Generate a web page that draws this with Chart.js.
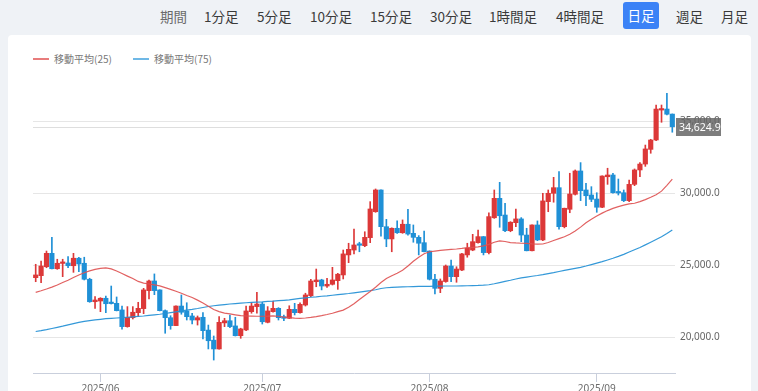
<!DOCTYPE html>
<html><head><meta charset="utf-8">
<script src="https://cdn.jsdelivr.net/npm/chart.js@4/dist/chart.umd.min.js"></script>
<style>
html,body{margin:0;padding:0;width:758px;height:391px;overflow:hidden;background:#eff2f6;font-family:"Noto Sans CJK JP","Noto Sans",sans-serif;}
.btn{position:absolute;top:6px;font-size:13.5px;line-height:20px;color:#3a3a3a;white-space:nowrap;}
.act{position:absolute;left:623px;top:2px;width:36px;height:27px;line-height:27px;text-align:center;background:#3b82f6;color:#fff;border-radius:3px;font-size:13.5px;}
#card{position:absolute;left:8px;top:35px;width:743px;height:370px;background:#fff;border-radius:4px;}
.lg{position:absolute;top:52px;font-size:10px;line-height:14px;color:#777;white-space:nowrap;}
.sw{position:absolute;top:58px;width:16px;height:2px;}
#c{position:absolute;left:8px;top:35px;}
</style></head><body>
<div class="btn" style="left:160px;color:#6b6b6b">期間</div>
<div class="btn" style="left:204px">1分足</div>
<div class="btn" style="left:257px">5分足</div>
<div class="btn" style="left:310px">10分足</div>
<div class="btn" style="left:370px">15分足</div>
<div class="btn" style="left:430px">30分足</div>
<div class="btn" style="left:489px">1時間足</div>
<div class="btn" style="left:556px">4時間足</div>
<div class="act">日足</div>
<div class="btn" style="left:676px">週足</div>
<div class="btn" style="left:721px">月足</div>
<div id="card"></div>
<div class="sw" style="left:33px;background:#e87c7c"></div>
<div class="lg" style="left:54px">移動平均(25)</div>
<div class="sw" style="left:133px;background:#6fb8e6"></div>
<div class="lg" style="left:154px">移動平均(75)</div>
<canvas id="c" width="743" height="370"></canvas>
<script>
const dates = [
'2025-05-20','2025-05-21','2025-05-22','2025-05-23','2025-05-24','2025-05-25','2025-05-26','2025-05-27','2025-05-28','2025-05-29','2025-05-30','2025-05-31',
'2025-06-01','2025-06-02','2025-06-03','2025-06-04','2025-06-05','2025-06-06','2025-06-07','2025-06-08','2025-06-09','2025-06-10',
'2025-06-11','2025-06-12','2025-06-13','2025-06-14','2025-06-15','2025-06-16','2025-06-17','2025-06-18','2025-06-19','2025-06-20',
'2025-06-21','2025-06-22','2025-06-23','2025-06-24','2025-06-25','2025-06-26','2025-06-27','2025-06-28','2025-06-29','2025-06-30',
'2025-07-01','2025-07-02','2025-07-03','2025-07-04','2025-07-05','2025-07-06','2025-07-07','2025-07-08','2025-07-09','2025-07-10',
'2025-07-11','2025-07-12','2025-07-13','2025-07-14','2025-07-15','2025-07-16','2025-07-17','2025-07-18','2025-07-19','2025-07-20',
'2025-07-21','2025-07-22','2025-07-23','2025-07-24','2025-07-25','2025-07-26','2025-07-27','2025-07-28','2025-07-29','2025-07-30','2025-07-31',
'2025-08-01','2025-08-02','2025-08-03','2025-08-04','2025-08-05','2025-08-06','2025-08-07','2025-08-08','2025-08-09','2025-08-10',
'2025-08-11','2025-08-12','2025-08-13','2025-08-14','2025-08-15','2025-08-16','2025-08-17','2025-08-18','2025-08-19','2025-08-20',
'2025-08-21','2025-08-22','2025-08-23','2025-08-24','2025-08-25','2025-08-26','2025-08-27','2025-08-28','2025-08-29','2025-08-30','2025-08-31',
'2025-09-01','2025-09-02','2025-09-03','2025-09-04','2025-09-05','2025-09-06','2025-09-07','2025-09-08','2025-09-09','2025-09-10',
'2025-09-11','2025-09-12','2025-09-13','2025-09-14','2025-09-15'];

const opens = [24140,24280,24900,25830,24760,25130,25160,24970,25490,25140,24030,22470,22520,22710,22380,22360,21900,20740,21360,21710,
21990,23240,23910,23290,21850,21360,20810,22170,21830,21480,21200,21390,20500,19800,19190,21000,21150,20790,20110,20510,
21780,22130,22310,21040,21780,22010,21430,21320,21940,21710,22240,22890,23860,23980,23560,23680,23930,24330,25720,26060,
26420,26360,26920,28720,30230,27680,26830,27570,27260,27850,27220,26940,26570,25990,24030,23400,23870,24950,24210,24670,
25720,26060,26570,26990,25880,28300,29650,28490,27400,27960,28220,27100,26010,27800,26760,29420,30000,30390,27680,28890,
29930,31550,30230,29880,29600,29030,31150,31270,30060,30040,29490,30620,31620,32030,33050,33700,35780,35850,35500];
const highs = [25070,25300,25990,26940,25420,25420,25600,25830,25560,25560,24100,22820,22750,22870,23560,22800,22170,22130,22130,22430,
23400,23980,24400,23300,21900,21500,22180,22940,22400,21670,21480,21710,20850,20090,21430,21320,21550,21390,20630,22170,
22400,23130,22430,22130,22520,22060,21550,22190,22360,22400,23060,24030,24740,24030,24100,24860,24440,26060,26530,27520,
26600,27330,29420,30300,30240,28190,27600,28080,28150,28890,27800,27060,27380,26000,24380,24050,25020,25370,24900,25830,
26530,27150,27450,27000,28650,30230,30760,29310,28030,28910,28310,27570,27810,28080,30000,30230,31110,31500,28970,31390,
31620,32130,30690,30460,30040,31220,31740,31390,30990,30230,30920,31690,32130,33350,33750,36130,36130,36940,35510];
const lows = [23860,23790,24830,24740,24720,24210,24830,24510,24560,23980,22430,22010,21780,21710,22310,21830,20560,20700,21270,21430,
21640,22660,22960,21830,20280,20560,20800,21600,21200,20920,20850,19880,19190,18420,19170,20740,20670,20090,19930,20460,
21670,21670,20920,21000,21740,21200,21150,21300,21550,21670,22170,22820,23510,23290,23470,23630,23330,24050,25180,25790,
25940,26290,26570,28680,27030,26290,25940,27220,27220,27100,26600,25720,25930,23980,23010,23100,23820,23860,23820,24630,
25560,26010,26530,25720,25790,28260,27640,27330,27330,27680,26640,26000,26000,26710,26710,28720,29380,27500,27600,28650,
29880,29490,29140,29420,28680,29000,30620,30000,29880,29420,29420,30530,31150,31870,32780,33650,34930,35440,34240];
const closes = [24330,24950,25830,24760,25140,25150,24970,25490,25090,24030,22470,22590,22710,22330,22340,21850,20740,21390,21740,22010,
23290,23910,23240,21850,21360,20810,22170,21740,21430,21200,21360,20460,19760,19190,21040,21150,20740,20110,20580,21830,
22170,22310,21080,21830,22010,21360,21320,21940,21710,22290,22940,23910,23980,23560,23680,23980,24380,25790,26110,26410,
26390,26940,28910,30230,27680,26830,27570,27260,27850,27170,26940,26530,25945,24030,23400,23910,24950,24210,24740,25790,
26180,26640,26990,25880,28380,29650,28440,27400,27990,28220,27100,26010,27800,26760,29470,30000,30390,27680,28960,29950,
31550,30180,29830,29580,29030,31200,31270,30040,30020,29490,30620,31620,32030,33080,33700,35850,35830,35490,34624.9];

const ma25 = [23120,23230,23350,23480,23630,23800,23960,24150,24330,24480,24610,24720,24790,24820,24750,24600,24430,24250,24080,23880,
23760,23700,23640,23570,23450,23330,23200,23060,22900,22760,22580,22380,22150,21930,21780,21680,21620,21560,21500,21480,
21470,21460,21460,21470,21490,21460,21400,21360,21330,21320,21340,21380,21430,21500,21580,21670,21780,21890,22080,22330,
22620,22900,23180,23480,23800,24080,24270,24450,24650,24950,25280,25560,25800,25940,25990,26040,26070,26100,26130,26170,
26220,26250,26280,26350,26450,26600,26690,26650,26580,26550,26530,26520,26490,26470,26480,26580,26720,26850,26980,27150,
27380,27650,27950,28200,28420,28620,28800,28950,29070,29180,29260,29310,29420,29560,29720,29900,30150,30550,30980];
const ma75 = [20400,20460,20530,20610,20690,20770,20860,20950,21030,21100,21160,21210,21250,21290,21320,21340,21360,21390,21420,21450,
21480,21520,21560,21600,21650,21710,21770,21830,21890,21940,22000,22070,22140,22190,22230,22270,22310,22340,22370,22400,
22420,22440,22460,22490,22510,22540,22570,22600,22650,22700,22740,22780,22810,22850,22880,22920,22960,23000,23040,23090,
23140,23190,23240,23300,23390,23440,23470,23490,23500,23510,23520,23530,23540,23540,23550,23550,23560,23560,23560,23570,
23580,23590,23600,23620,23650,23720,23800,23880,23960,24050,24120,24180,24240,24290,24350,24420,24490,24570,24650,24720,
24790,24860,24950,25050,25150,25250,25370,25490,25620,25760,25920,26080,26240,26420,26600,26790,26980,27200,27450];

const yTicks = [20000,25000,30000,35000];
const lastPrice = closes[closes.length-1];

const UP = '#dc3838', DOWN = '#1f90d6';
const candleColors = closes.map((c,i) => c >= opens[i] ? UP : DOWN);
const fmt = v => v.toLocaleString('en-US',{minimumFractionDigits:1,maximumFractionDigits:1});

const pricePlugin = {
  id:'price',
  beforeDraw(chart){
    const {ctx, chartArea:a, scales:{y}} = chart;
    const py = y.getPixelForValue(lastPrice);
    ctx.save();
    ctx.fillStyle = '#7d7d7d';
    ctx.fillRect(a.right+1, Math.round(py)-9, 45, 18);
    ctx.restore();
  },
  beforeDatasetsDraw(chart){
    const {ctx, chartArea:a, scales:{y}} = chart;
    const py = Math.round(y.getPixelForValue(lastPrice))+0.5;
    ctx.save();
    ctx.strokeStyle = '#dedede'; ctx.lineWidth = 1;
    ctx.beginPath(); ctx.moveTo(a.left, py); ctx.lineTo(a.right, py); ctx.stroke();
    ctx.restore();
  },
  afterDraw(chart){
    const {ctx, chartArea:a, scales:{y}} = chart;
    const py = y.getPixelForValue(lastPrice);
    ctx.save();
    ctx.fillStyle = '#ffffff';
    ctx.font = '10.5px "Noto Sans", sans-serif';
    ctx.textBaseline = 'middle';
    ctx.textAlign = 'left';
    ctx.fillText(fmt(lastPrice), a.right+4, Math.round(py)+1);
    ctx.restore();
  }
};

new Chart(document.getElementById('c'), {
  type:'bar',
  data:{
    labels: dates,
    datasets:[
      {type:'line', data: ma25, borderColor:'rgba(222,80,80,0.9)', borderWidth:1.2, pointRadius:0, tension:0, order:0},
      {type:'line', data: ma75, borderColor:'rgba(40,146,214,0.95)', borderWidth:1.2, pointRadius:0, tension:0, order:0},
      {type:'bar', data: opens.map((o,i)=>[o, closes[i]]), backgroundColor: candleColors, barThickness:4.5, grouped:false, minBarLength:1.5, order:1},
      {type:'bar', data: lows.map((l,i)=>[l, highs[i]]), backgroundColor: candleColors, barThickness:1, grouped:false, order:2}
    ]
  },
  plugins:[pricePlugin],
  options:{
    responsive:false, animation:false, devicePixelRatio:1,
    layout:{padding:{left:25, top:50, right:0, bottom:0}},
    plugins:{legend:{display:false}, tooltip:{enabled:false}},
    scales:{
      x:{
        type:'category', offset:true,
        grid:{display:true, drawOnChartArea:false, drawTicks:true, tickLength:9, offset:false, color:'#c9cfdc'},
        border:{display:true, color:'#c9cfdc'},
        afterBuildTicks(axis){ axis.ticks = axis.ticks.filter(t => dates[t.value].endsWith('-01')); },
        afterFit(axis){ axis.height = 32; },
        ticks:{autoSkip:false, maxRotation:0, padding:1, color:'#6b6b6b', font:{size:10, family:'"Noto Sans", sans-serif'},
          callback(v){ return dates[v].slice(0,7).replace('-','/'); }}
      },
      y:{
        position:'right', min:17520, max:37520,
        grid:{color:'#e6e6e6', drawTicks:false},
        border:{display:false},
        afterBuildTicks(axis){ axis.ticks = yTicks.map(v=>({value:v})); },
        afterFit(axis){ axis.width = 76; },
        ticks:{padding:5, color:'#666', font:{size:10, family:'"Noto Sans", sans-serif'}, callback:v=>fmt(v)}
      }
    }
  }
});
</script>
</body></html>
